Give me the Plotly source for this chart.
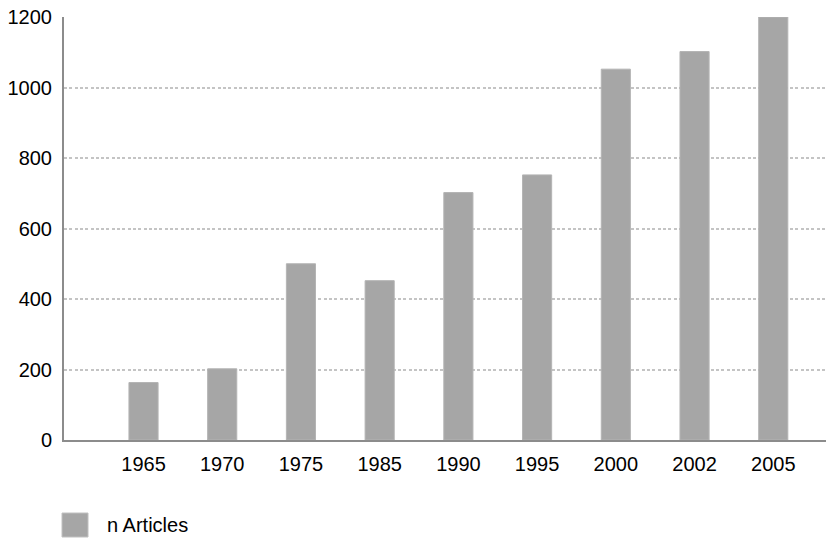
import plotly.graph_objects as go

years = ["1965", "1970", "1975", "1985", "1990", "1995", "2000", "2002", "2005"]
articles = [163, 202, 500, 452, 702, 752, 1052, 1102, 1200]
series_name = "n Articles"
y_ticks = [0, 200, 400, 600, 800, 1000, 1200]

fig = go.Figure()
fig.add_trace(go.Bar(
    x=years, y=articles, name=series_name,
    marker=dict(color="#a6a6a6", line=dict(color="#b4b4b4", width=1)),
    width=0.37, showlegend=False,
))

fig.update_layout(
    width=826, height=538,
    margin=dict(l=64, r=0, t=17, b=98),
    plot_bgcolor="white", paper_bgcolor="white",
    font=dict(family="Liberation Sans, Arial, sans-serif", size=20, color="black"),
    xaxis=dict(
        type="category", range=[-1.01, 8.67],
        showgrid=False, showline=True, linecolor="#8c8c8c", linewidth=2,
        ticks="outside", ticklen=5, tickcolor="rgba(0,0,0,0)", tickfont=dict(size=20),
    ),
    yaxis=dict(
        range=[0, 1200], tickvals=y_ticks,
        showgrid=True, gridcolor="#c4c4c4", griddash="3px,2.3px", gridwidth=2,
        showline=True, linecolor="#8c8c8c", linewidth=2,
        zeroline=False, ticks="outside", ticklen=6, tickcolor="rgba(0,0,0,0)",
        tickfont=dict(size=20),
    ),
    bargap=0.6,
)

# legend drawn as shape + annotation
fig.add_shape(type="rect", xref="paper", yref="paper",
              x0=-2 / 762, x1=24 / 762, y0=-97 / 423, y1=-73 / 423,
              fillcolor="#a6a6a6", line=dict(color="#c0c0c0", width=1))
fig.add_annotation(xref="paper", yref="paper", x=41 / 762, y=-85 / 423,
                   text=series_name, showarrow=False, xanchor="left", yanchor="middle",
                   font=dict(size=20, color="black"))

fig.write_html("out.html", config={"displayModeBar": False},
               post_script="document.body.style.margin='0';document.body.style.padding='0';")
